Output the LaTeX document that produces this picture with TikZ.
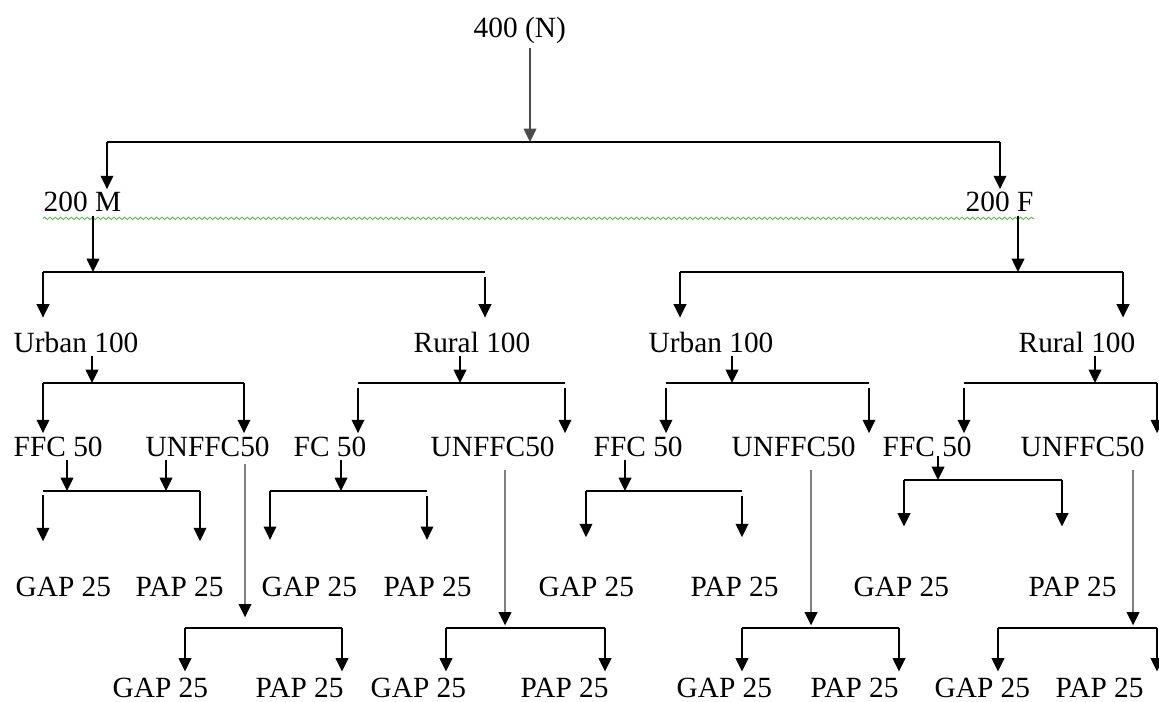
\documentclass[tikz,border=0pt]{standalone}
\usepackage{fontspec}
\setmainfont{Liberation Serif}
\usepackage{tikz}
\usetikzlibrary{arrows.meta,decorations.pathmorphing}
\definecolor{spellgreen}{RGB}{100,180,90}

\begin{document}
\begin{tikzpicture}[x=0.75pt,y=-0.75pt,line width=1.1pt,
  >={Triangle[length=10pt,width=9.5pt]},
  every node/.style={font=\fontsize{22}{26}\selectfont},
  lbl/.style={anchor=base west,inner xsep=0pt,inner ysep=2pt},
  longarr/.style={draw=gray,line width=1.5pt,-{Triangle[length=10pt,width=9.5pt,color=black]},shorten <=8pt,shorten >=2pt}]
  \useasboundingbox (0,0) rectangle (1159,702);
  \node[lbl] (tot) at (473,38) {400 (N)};
  \node[lbl] (m) at (43,212) {200 M};
  \node[lbl] (f) at (965,212) {200 F};
  \node[lbl] (um) at (13,352) {Urban 100};
  \node[lbl] (rm) at (413,352) {Rural 100};
  \node[lbl] (uf) at (648,352) {Urban 100};
  \node[lbl] (rf) at (1018,352) {Rural 100};
  \node[lbl] (ffcum) at (13,456) {FFC 50};
  \node[lbl] (unfum) at (145,456) {UNFFC50};
  \node[lbl] (fcrm) at (293,456) {FC 50};
  \node[lbl] (unfrm) at (430,456) {UNFFC50};
  \node[lbl] (ffcuf) at (593,456) {FFC 50};
  \node[lbl] (unfuf) at (731,456) {UNFFC50};
  \node[lbl] (ffcrf) at (882,456) {FFC 50};
  \node[lbl] (unfrf) at (1020,456) {UNFFC50};
  \node[lbl] (gap1) at (15,596) {GAP 25};
  \node[lbl] (pap1) at (135,596) {PAP 25};
  \node[lbl] (gap2) at (261,596) {GAP 25};
  \node[lbl] (pap2) at (383,596) {PAP 25};
  \node[lbl] (gap3) at (538,596) {GAP 25};
  \node[lbl] (pap3) at (690,596) {PAP 25};
  \node[lbl] (gap4) at (853,596) {GAP 25};
  \node[lbl] (pap4) at (1028,596) {PAP 25};
  \node[lbl] (gapx1) at (112,697) {GAP 25};
  \node[lbl] (papx1) at (255,697) {PAP 25};
  \node[lbl] (gapx2) at (370,697) {GAP 25};
  \node[lbl] (papx2) at (520,697) {PAP 25};
  \node[lbl] (gapx3) at (676,697) {GAP 25};
  \node[lbl] (papx3) at (810,697) {PAP 25};
  \node[lbl] (gapx4) at (934,697) {GAP 25};
  \node[lbl] (papx4) at (1055,697) {PAP 25};
  \draw[spellgreen,line width=0.7pt,decorate,decoration={snake,segment length=4pt,amplitude=0.9pt}]
    ([yshift=-2pt]m.south west) -- ([yshift=-2pt]f.south east);
  \draw (107,142) coordinate (nl) -- (530,142) coordinate (nj) -- (1000,142) coordinate (nr);
  \draw[->,draw=black!70] (tot.south -| nj) -- (nj);
  \draw[->] (nl) -- (nl |- m.north);
  \draw[->] (nr) -- (nr |- f.north);
  \draw (43,272) coordinate (ml) -- (93,272) coordinate (mj) -- (485,272) coordinate (mr);
  \draw[->] (m.south -| mj) -- (mj);
  \draw[->,shorten >=8pt] (ml) -- (ml |- um.north);
  \draw[->,shorten <=4pt,shorten >=8pt] (mr) -- (mr |- rm.north);
  \draw (680,272) coordinate (fl) -- (1018,272) coordinate (fj) -- (1123,272) coordinate (fr);
  \draw[->] (f.south -| fj) -- (fj);
  \draw[->,shorten >=8pt] (fl) -- (fl |- uf.north);
  \draw[->,shorten >=8pt] (fr) -- (fr |- rf.north);
  \draw (43,383) coordinate (uml) -- (92,383) coordinate (umj) -- (244,383) coordinate (umr);
  \draw[->] (um.south -| umj) -- (umj);
  \draw[->] (uml) -- (uml |- ffcum.north);
  \draw[->] (umr) -- (umr |- unfum.north);
  \draw (358,383) coordinate (rml) -- (460,383) coordinate (rmj) -- (565,383) coordinate (rmr);
  \draw[->] (rm.south -| rmj) -- (rmj);
  \draw[->,shorten <=4pt] (rml) -- (rml |- fcrm.north);
  \draw[->,shorten <=4pt] (rmr) -- (rmr |- unfrm.north);
  \draw (666,383) coordinate (ufl) -- (732,383) coordinate (ufj) -- (869,383) coordinate (ufr);
  \draw[->] (uf.south -| ufj) -- (ufj);
  \draw[->,shorten <=4pt] (ufl) -- (ufl |- ffcuf.north);
  \draw[->,shorten <=4pt] (ufr) -- (ufr |- unfuf.north);
  \draw (964,383) coordinate (rfl) -- (1095,383) coordinate (rfj) -- (1157,383) coordinate (rfr);
  \draw[->] (rf.south -| rfj) -- (rfj);
  \draw[->,shorten <=4pt] (rfl) -- (rfl |- ffcrf.north);
  \draw[->] (rfr) -- (rfr |- unfrf.north);
  \draw (43,491) coordinate (al) -- (67,491) coordinate (aj) -- (166,491) coordinate (ak) -- (200,491) coordinate (ar);
  \draw[->] (ffcum.south -| aj) -- (aj);
  \draw[->] (unfum.south -| ak) -- (ak);
  \draw[->,shorten <=3pt,shorten >=24pt] (al) -- (al |- gap1.north);
  \draw[->,shorten >=24pt] (ar) -- (ar |- pap1.north);
  \draw (185,628) coordinate (axl) -- (245,628) coordinate (axj) -- (342,628) coordinate (axr);
  \draw[longarr,shorten <=3pt,shorten >=8pt] (unfum.south -| axj) -- (axj);
  \draw[->,shorten >=2pt] (axl) -- (axl |- gapx1.north);
  \draw[->,shorten >=2pt] (axr) -- (axr |- papx1.north);
  \draw (270,491) coordinate (bl) -- (341,491) coordinate (bj) -- (427,491) coordinate (br);
  \draw[->] (fcrm.south -| bj) -- (bj);
  \draw[->,shorten >=25pt] (bl) -- (bl |- gap2.north);
  \draw[->,shorten <=4pt,shorten >=25pt] (br) -- (br |- pap2.north);
  \draw (446,628) coordinate (bxl) -- (505,628) coordinate (bxj) -- (605,628) coordinate (bxr);
  \draw[longarr] (unfrm.south -| bxj) -- (bxj);
  \draw[->,shorten >=2pt] (bxl) -- (bxl |- gapx2.north);
  \draw[->,shorten >=2pt] (bxr) -- (bxr |- papx2.north);
  \draw (586,491) coordinate (cl) -- (625,491) coordinate (cj) -- (742,491) coordinate (cr);
  \draw[->] (ffcuf.south -| cj) -- (cj);
  \draw[->,shorten >=27pt] (cl) -- (cl |- gap3.north);
  \draw[->,shorten <=4pt,shorten >=27pt] (cr) -- (cr |- pap3.north);
  \draw (742,628) coordinate (cxl) -- (811,628) coordinate (cxj) -- (899,628) coordinate (cxr);
  \draw[longarr] (unfuf.south -| cxj) -- (cxj);
  \draw[->,shorten >=2pt] (cxl) -- (cxl |- gapx3.north);
  \draw[->,shorten >=2pt] (cxr) -- (cxr |- papx3.north);
  \draw (904,480) coordinate (dl) -- (938,480) coordinate (dj) -- (1062,480) coordinate (dr);
  \draw[->] (ffcrf.base -| dj) -- (dj);
  \draw[->,shorten >=35pt] (dl) -- (dl |- gap4.north);
  \draw[->,shorten >=35pt] (dr) -- (dr |- pap4.north);
  \draw (998,628) coordinate (dxl) -- (1133,628) coordinate (dxj) -- (1157,628) coordinate (dxr);
  \draw[longarr] (unfrf.south -| dxj) -- (dxj);
  \draw[->,shorten >=2pt] (dxl) -- (dxl |- gapx4.north);
  \draw[->,shorten >=2pt] (dxr) -- (dxr |- papx4.north);
\end{tikzpicture}
\end{document}
